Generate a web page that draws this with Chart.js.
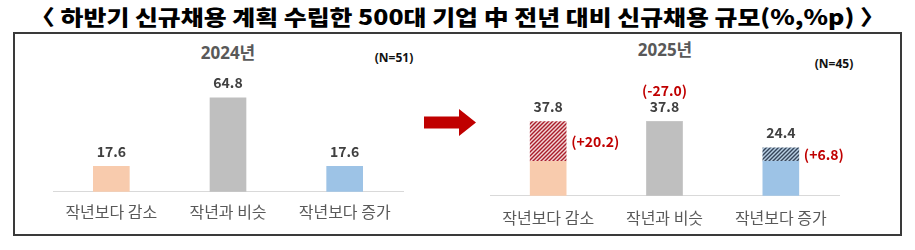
<!DOCTYPE html>
<html>
<head>
<meta charset="utf-8">
<script src="https://cdn.jsdelivr.net/npm/chart.js@4"></script>
<style>
  body { margin: 0; width: 915px; height: 250px; background: #fff; position: relative; overflow: hidden;
         font-family: "Noto Sans CJK KR", "Noto Sans", sans-serif; }
  #title { position: absolute; left: 30px; top: 5px; font-size: 21px; line-height: 23px; font-weight: 900;
           color: #000; white-space: nowrap; display: inline-block; transform-origin: left top; }
  #box { position: absolute; left: 13px; top: 32px; width: 889px; height: 204px; border: 2px solid #3a3a3a; box-sizing: border-box; }
  .ptitle { position: absolute; font-family: "Noto Sans", "Noto Sans CJK KR", sans-serif; font-size: 17px; font-weight: 700;
            color: #595959; transform: translate(-50%, -50%); white-space: nowrap; }
  .nlabel { position: absolute; font-family: "Noto Sans", "Noto Sans CJK KR", sans-serif; font-size: 12px; font-weight: 700;
            color: #111; transform: translate(-50%, -50%); white-space: nowrap; }
  canvas { position: absolute; }
  #arrow { position: absolute; left: 424px; top: 109px; }
</style>
</head>
<body>
<div id="title">〈 하반기 신규채용 계획 수립한 500대 기업 中 전년 대비 신규채용 규모(%,%p) 〉</div>
<div id="box"></div>
<div class="ptitle" style="left:228px; top:51px;">2024년</div>
<div class="nlabel" style="left:394px; top:57px;">(N=51)</div>
<div class="ptitle" style="left:665px; top:48px;">2025년</div>
<div class="nlabel" style="left:834px; top:63px;">(N=45)</div>
<svg id="arrow" width="52" height="27" viewBox="0 0 52 27">
  <polygon points="0,7.5 35,7.5 35,0 52,13.5 35,27 35,19.5 0,19.5" fill="#C00000"/>
</svg>
<canvas id="chart2024" width="405" height="206" style="left:15px; top:34px;"></canvas>
<canvas id="chart2025" width="480" height="206" style="left:420px; top:34px;"></canvas>
<script>
// data
const categories = ['작년보다 감소', '작년과 비슷', '작년보다 증가'];
const values2024 = [17.6, 64.8, 17.6];
const base2025 = [17.6, 37.8, 17.6];     // plain part of 2025 bars
const added2025 = [20.2, 0, 6.8];        // hatched increase part
const total2025 = [37.8, 37.8, 24.4];
const diffLabels2025 = ['(+20.2)', '(-27.0)', '(+6.8)'];
const barColors = ['#F8CBAD', '#BFBFBF', '#9DC3E6'];

Chart.defaults.font.family = "'Noto Sans CJK KR', sans-serif";

// diagonal hatch pattern for the increase segments
function hatch(bg, line) {
  const c = document.createElement('canvas');
  c.width = 4; c.height = 4;
  const g = c.getContext('2d');
  g.fillStyle = bg;
  g.fillRect(0, 0, 4, 4);
  g.strokeStyle = line;
  g.lineWidth = 1.4;
  g.beginPath();
  g.moveTo(0, 4); g.lineTo(4, 0);
  g.moveTo(-1, 1); g.lineTo(1, -1);
  g.moveTo(3, 5); g.lineTo(5, 3);
  g.stroke();
  return g.createPattern(c, 'repeat');
}
const redHatch = hatch('#f3d6d6', '#a81c2a');
const blueHatch = hatch('#b8cfe3', '#36455a');

// draws totals above bars and the %p changes
const valueLabels = {
  id: 'valueLabels',
  afterDatasetsDraw(chart, args, opts) {
    const ctx = chart.ctx;
    const topMeta = chart.getDatasetMeta(chart.data.datasets.length - 1);
    ctx.save();
    topMeta.data.forEach((bar, i) => {
      ctx.font = "700 14px 'Noto Sans CJK KR', sans-serif";
      ctx.textAlign = 'center';
      ctx.textBaseline = 'middle';
      ctx.fillStyle = '#404040';
      ctx.fillText(opts.totals[i].toFixed(1), bar.x, bar.y - 15);
      if (!opts.diffs) return;
      const d = opts.diffs[i];
      ctx.fillStyle = '#C00000';
      if (d.indexOf('-') > 0) {
        ctx.fillText(d, bar.x, bar.y - 31);
      } else {
        ctx.textAlign = 'left';
        ctx.fillText(d, bar.x + bar.width / 2 + 5, (bar.y + bar.base) / 2);
      }
    });
    ctx.restore();
  }
};

function axes(yMax, pad) {
  return {
    x: {
      stacked: true,
      grid: { display: false, drawTicks: false },
      border: { display: true, color: '#d9d9d9', width: 1 },
      ticks: { color: '#595959', padding: pad, font: { size: 16 } }
    },
    y: { stacked: true, display: false, min: 0, max: yMax }
  };
}

new Chart(document.getElementById('chart2024'), {
  type: 'bar',
  data: {
    labels: categories,
    datasets: [{ data: values2024, backgroundColor: barColors, barThickness: 36 }]
  },
  options: {
    responsive: false,
    animation: false,
    layout: { padding: { left: 38, right: 17, top: 36, bottom: 7 } },
    scales: axes(84, 11),
    plugins: {
      legend: { display: false },
      tooltip: { enabled: false },
      valueLabels: { totals: values2024 }
    }
  },
  plugins: [valueLabels]
});

new Chart(document.getElementById('chart2025'), {
  type: 'bar',
  data: {
    labels: categories,
    datasets: [
      { data: base2025, backgroundColor: barColors, barThickness: 36 },
      { data: added2025, backgroundColor: [redHatch, '#BFBFBF', blueHatch], barThickness: 36 }
    ]
  },
  options: {
    responsive: false,
    animation: false,
    layout: { padding: { left: 70, right: 61, top: 36, bottom: 0 } },
    scales: axes(64, 12.5),
    plugins: {
      legend: { display: false },
      tooltip: { enabled: false },
      valueLabels: { totals: total2025, diffs: diffLabels2025 }
    }
  },
  plugins: [valueLabels]
});

// stretch the heading to the width it has in the picture
const title = document.getElementById('title');
title.style.transform = 'scaleX(' + (855 / title.getBoundingClientRect().width) + ')';
</script>
</body>
</html>
